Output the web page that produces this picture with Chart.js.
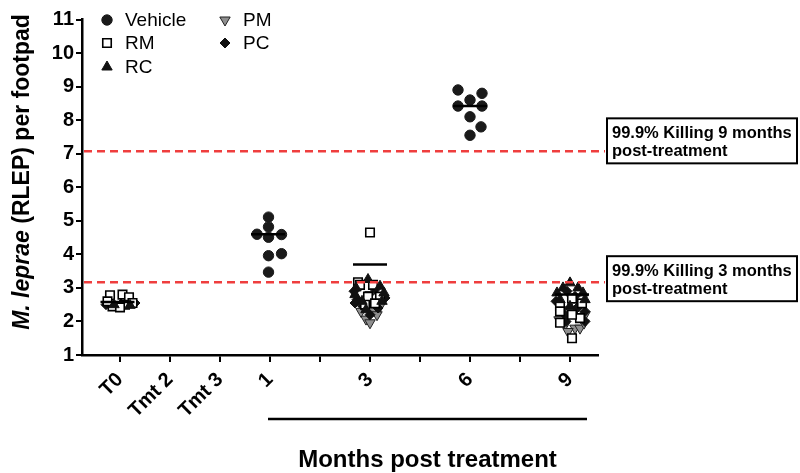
<!DOCTYPE html>
<html>
<head>
<meta charset="utf-8">
<script src="https://cdn.jsdelivr.net/npm/chart.js@4.4.0/dist/chart.umd.min.js"></script>
<style>
  html, body { margin: 0; padding: 0; background: #fff; }
  #wrap { width: 800px; height: 473px; position: relative; }
</style>
</head>
<body>
<div id="wrap"><canvas id="chart"></canvas></div>
<script>
const FONT = "'Liberation Sans', Arial, Helvetica, sans-serif";

// x positions are group index (0..9) plus the horizontal scatter seen in the plot
const xLabels = ['T0', 'Tmt 2', 'Tmt 3', '1', '', '3', '', '6', '', '9'];

const vehicle = [
  [2.74, 4.6], [2.97, 5.11], [2.97, 4.82], [2.97, 4.51], [3.23, 4.59], [2.97, 3.96], [3.23, 4.02], [2.97, 3.47],
  [6.76, 8.9], [7.24, 8.8], [7.0, 8.6], [6.76, 8.42], [7.24, 8.42], [7.0, 8.1], [7.22, 7.8], [7.0, 7.55]
];
const rm = [
  [-0.2, 2.78], [0.05, 2.8], [0.18, 2.72], [-0.15, 2.45], [0.1, 2.5], [0.25, 2.55], [-0.25, 2.6], [0, 2.42],
  [5, 4.65], [4.76, 3.17], [4.8, 3.09], [5.06, 3.09], [4.96, 2.74], [5.2, 2.74], [4.9, 2.5], [5.1, 2.54],
  [9.04, 2.68], [8.8, 2.45], [8.8, 2.3], [9.24, 2.54], [9.2, 2.1], [8.8, 1.96], [9.04, 1.5], [9.04, 2.2]
];
const rc = [
  [-0.12, 2.5], [0.2, 2.48],
  [4.96, 3.25], [4.72, 3.0], [5.2, 3.05], [4.7, 2.8], [5.28, 2.85], [4.84, 2.6], [5.24, 2.6], [4.92, 2.35],
  [9.0, 3.15], [8.86, 3.0], [9.16, 3.0], [8.74, 2.85], [9.26, 2.85], [8.8, 2.65], [9.3, 2.65], [9.0, 2.45]
];
const pm = [
  [5.06, 2.33], [4.92, 2.07], [5.0, 1.96], [5.14, 2.2], [4.82, 2.3], [5.2, 2.45], [4.78, 2.6], [5.0, 2.8],
  [9.1, 1.8], [9.2, 1.8], [8.9, 1.9], [9.3, 2.2], [8.78, 2.05], [9.0, 2.35], [9.28, 1.95], [8.96, 1.7]
];
const pc = [
  [0.02, 2.52], [-0.28, 2.5], [0.3, 2.55],
  [4.68, 2.9], [5.1, 2.95], [4.74, 2.65], [5.3, 2.7], [4.86, 2.45], [5.16, 2.4], [4.7, 2.55], [5.0, 2.2],
  [8.94, 2.9], [9.1, 2.75], [8.72, 2.6], [9.14, 2.4], [8.9, 2.2], [9.3, 2.3], [8.92, 2.0], [9.3, 2.0]
];
// group centre lines
const centreLines = [[-0.05, 2.58], [2.96, 4.6], [5.0, 3.7], [7.0, 8.42], [9.04, 2.8]];

const thresholds = [7.07, 3.17];
const thresholdNotes = [
  ['99.9% Killing 9 months', 'post-treatment'],
  ['99.9% Killing 3 months', 'post-treatment']
];
const xTitle = 'Months post treatment';
const bracketRange = [2.96, 9.34];

const pts = (arr) => arr.map(([x, y]) => ({ x, y }));

const decor = {
  id: 'decor',
  afterDraw(chart) {
    const { ctx, chartArea: a, scales: { x, y } } = chart;
    ctx.save();

    // threshold lines and notes
    const noteTop = [-33, -26];
    thresholds.forEach((t, i) => {
      const py = y.getPixelForValue(t);
      ctx.strokeStyle = '#ef3e3e';
      ctx.lineWidth = 2.5;
      ctx.setLineDash([8, 5]);
      ctx.beginPath();
      ctx.moveTo(a.left + 2, py);
      ctx.lineTo(605, py);
      ctx.stroke();
      ctx.setLineDash([]);
      const bx = 607, by = py + noteTop[i], bw = 190, bh = 45;
      ctx.strokeStyle = '#000';
      ctx.lineWidth = 2;
      ctx.fillStyle = '#fff';
      ctx.fillRect(bx, by, bw, bh);
      ctx.strokeRect(bx, by, bw, bh);
      ctx.fillStyle = '#000';
      ctx.font = 'bold 16.5px ' + FONT;
      ctx.textAlign = 'left';
      ctx.textBaseline = 'alphabetic';
      ctx.fillText(thresholdNotes[i][0], bx + 5, by + 20);
      ctx.fillText(thresholdNotes[i][1], bx + 5, by + 38);
    });

    // legend (two columns)
    const slots = [[107, 20], [107, 43], [107, 67], [225, 20], [225, 43]];
    chart.data.datasets.filter(d => d.label).forEach((d, i) => {
      const [lx, ly] = slots[i];
      ctx.fillStyle = d.backgroundColor;
      ctx.strokeStyle = d.borderColor;
      ctx.lineWidth = d.borderWidth;
      Chart.helpers.drawPoint(ctx, {
        pointStyle: d.pointStyle, rotation: d.rotation || 0,
        radius: d.pointRadius, borderWidth: d.borderWidth
      }, lx, ly);
      ctx.fillStyle = '#000';
      ctx.font = '19px ' + FONT;
      ctx.textAlign = 'left';
      ctx.textBaseline = 'middle';
      ctx.fillText(d.label, lx + 18, ly + 1);
    });

    // y title with italic species name
    ctx.save();
    ctx.translate(23, 172);
    ctx.rotate(-Math.PI / 2);
    ctx.textBaseline = 'middle';
    ctx.textAlign = 'left';
    const p1 = 'M. leprae', p2 = ' (RLEP) per footpad';
    ctx.font = 'italic bold 23px ' + FONT;
    const w1 = ctx.measureText(p1).width;
    ctx.font = 'bold 23px ' + FONT;
    const w2 = ctx.measureText(p2).width;
    const sx = -(w1 + w2) / 2;
    ctx.fillStyle = '#000';
    ctx.font = 'italic bold 23px ' + FONT;
    ctx.fillText(p1, sx, 0);
    ctx.font = 'bold 23px ' + FONT;
    ctx.fillText(p2, sx + w1, 0);
    ctx.restore();

    // bracket under the months and x title
    const b0 = x.getPixelForValue(bracketRange[0]);
    const b1 = x.getPixelForValue(bracketRange[1]);
    ctx.strokeStyle = '#000';
    ctx.lineWidth = 2.5;
    ctx.beginPath();
    ctx.moveTo(b0, 419);
    ctx.lineTo(b1, 419);
    ctx.stroke();
    ctx.fillStyle = '#000';
    ctx.font = 'bold 24px ' + FONT;
    ctx.textAlign = 'center';
    ctx.textBaseline = 'alphabetic';
    ctx.fillText(xTitle, (b0 + b1) / 2, 467);

    ctx.restore();
  }
};

new Chart(document.getElementById('chart').getContext('2d'), {
  type: 'scatter',
  data: {
    datasets: [
      { data: pts(centreLines), pointStyle: 'line', pointRadius: 17, borderColor: '#000', backgroundColor: '#000', borderWidth: 2.5, order: 0 },
      { label: 'Vehicle', data: pts(vehicle), pointStyle: 'circle', pointRadius: 5.2, backgroundColor: '#1a1a1a', borderColor: '#1a1a1a', borderWidth: 1, order: 5 },
      { label: 'RM', data: pts(rm), pointStyle: 'rect', pointRadius: 6, backgroundColor: '#fff', borderColor: '#000', borderWidth: 1.6, order: 2 },
      { label: 'RC', data: pts(rc), pointStyle: 'triangle', pointRadius: 6, backgroundColor: '#111', borderColor: '#111', borderWidth: 1, order: 1 },
      { label: 'PM', data: pts(pm), pointStyle: 'triangle', rotation: 180, pointRadius: 6, backgroundColor: '#8f8f8f', borderColor: '#222', borderWidth: 1, order: 4 },
      { label: 'PC', data: pts(pc), pointStyle: 'rectRot', pointRadius: 5, backgroundColor: '#111', borderColor: '#111', borderWidth: 1, order: 3 }
    ]
  },
  options: {
    responsive: true,
    maintainAspectRatio: false,
    devicePixelRatio: 1,
    animation: false,
    events: [],
    layout: { padding: { left: 0, right: 202, top: 10, bottom: 0 } },
    plugins: { legend: { display: false }, tooltip: { enabled: false } },
    scales: {
      x: {
        type: 'linear', min: -0.76, max: 9.56,
        afterBuildTicks: (s) => { s.ticks = xLabels.map((_, i) => ({ value: i })); },
        afterFit: (s) => { s.height = 118; },
        grid: { display: true, drawOnChartArea: false, drawTicks: true, tickLength: 7, color: '#000', lineWidth: 2 },
        border: { display: true, color: '#000', width: 2.5 },
        ticks: {
          callback: (v) => xLabels[v] || '',
          minRotation: 45, maxRotation: 45, autoSkip: false, padding: 6,
          color: '#000', font: { family: FONT, size: 20, weight: 'bold' }
        }
      },
      y: {
        min: 1, max: 11,
        afterFit: (s) => { s.width = 82; },
        grid: { display: true, drawOnChartArea: false, drawTicks: true, tickLength: 6, color: '#000', lineWidth: 2 },
        border: { display: true, color: '#000', width: 2.5 },
        ticks: { stepSize: 1, padding: 2, color: '#000', font: { family: FONT, size: 20, weight: 'bold' } }
      }
    }
  },
  plugins: [decor]
});
</script>
</body>
</html>
